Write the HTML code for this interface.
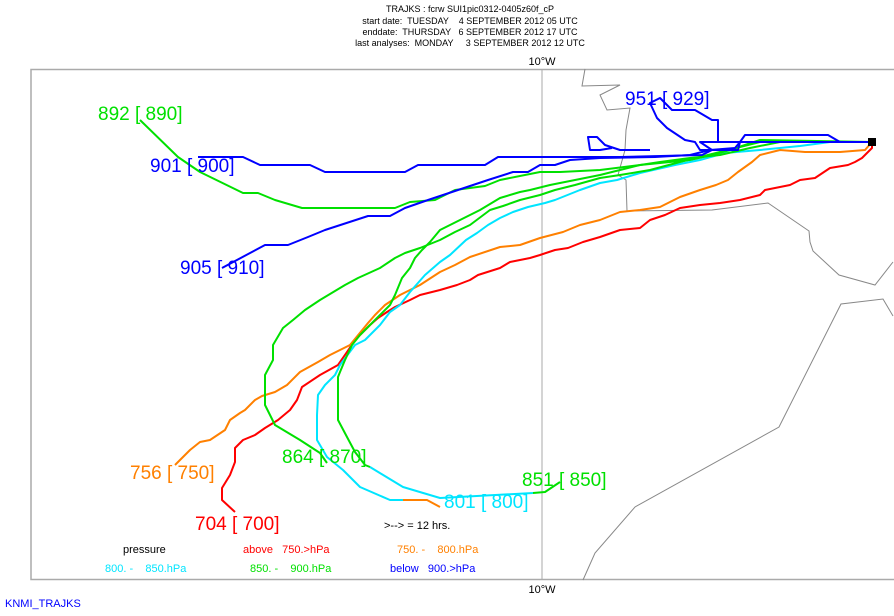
<!DOCTYPE html>
<html><head><meta charset="utf-8"><style>
body{margin:0;background:#fff;}
svg text{font-family:"Liberation Sans",sans-serif;white-space:pre;}
</style></head><body>
<svg width="894" height="611" viewBox="0 0 894 611" xmlns="http://www.w3.org/2000/svg" xml:space="preserve">
<rect width="894" height="611" fill="#fff"/>
<g font-size="9" text-anchor="middle" fill="#000">
<text x="470" y="12">TRAJKS : fcrw SUI1pic0312-0405z60f_cP</text>
<text x="470" y="24">start date:  TUESDAY    4 SEPTEMBER 2012 05 UTC</text>
<text x="470" y="35">enddate:  THURSDAY   6 SEPTEMBER 2012 17 UTC</text>
<text x="470" y="46">last analyses:  MONDAY     3 SEPTEMBER 2012 12 UTC</text>
<text x="542" y="65" font-size="11">10°W</text>
<text x="542" y="593" font-size="11">10°W</text>
</g>
<rect x="31" y="69.5" width="870" height="510" fill="none" stroke="#aaa" stroke-width="1.5"/>
<line x1="542" y1="69" x2="542" y2="580" stroke="#aaa"/>
<g fill="none" stroke="#888" stroke-width="1">
<polyline points="585,69 582,86 620,85 600,95 607,110 630,108 626,130 625,150 618,175 626,180 627,211 712,210 768,203 809,231 810,242 813,251 839,275 875,285 893,262"/>
<polyline points="893,316 883,299 841,304 779,427 635,507 595,553 583,580"/>
</g>
<g fill="none" stroke-width="2" stroke-linejoin="round">
<polyline stroke="#f00" points="872,142 872,148 862,158 855,162 848,165 830,168 815,178 800,180 790,185 765,190 760,195 740,200 720,203 700,205 680,208 665,215 650,220 640,228 620,230 600,237 583,242 568,248 555,250 540,255 530,258 510,262 500,268 478,275 470,280 457,285 440,290 420,295 410,300 395,307 387,312 378,318 370,325 355,340 347,352 338,365 320,375 302,387 297,400 290,410 278,420 265,428 255,435 243,440 235,448 235,462 230,475 222,488 222,500 235,512"/>
<polyline stroke="#ff8000" points="872,142 865,150 840,152 805,152 780,150 760,155 752,162 738,172 728,180 716,185 700,190 680,197 660,207 640,210 620,212 600,220 580,225 563,232 540,238 520,245 500,247 470,257 455,265 440,272 420,285 400,295 385,305 375,315 368,323 350,345 330,355 318,362 300,372 287,385 275,392 262,396 255,400 245,410 240,413 230,420 225,430 210,440 200,442 190,450 180,460 175,465"/>
<polyline stroke="#00e5ff" points="872,142 830,142 800,146 760,150 725,153 700,160 675,165 640,173 617,180 600,183 580,190 565,196 555,200 545,203 528,207 513,212 500,218 488,225 477,233 466,240 450,255 440,262 425,275 410,292 400,305 390,312 380,325 365,340 355,345 340,365 335,375 325,385 318,395 317,415 317,440 327,457 343,470 360,487 390,500 403,500"/>
<polyline stroke="#ff8000" points="403,500 427,500 440,507"/>
<polyline stroke="#00e5ff" points="370,467 403,487 440,498 533,493"/>
<polyline stroke="#00e000" points="533,493 545,492 560,482"/>
<polyline stroke="#00e000" points="872,142 760,140 730,150 712,155 690,160 640,165 620,170 600,175 575,180 550,185 530,190 520,192 500,198 480,210 460,220 440,230 430,242 422,250 415,258 410,268 402,278 395,295 390,305 380,315 370,325 360,335 352,345 345,360 340,372 338,377 338,420 347,437 355,452 365,465 370,467"/>
<polyline stroke="#00e000" points="872,142 760,142 720,152 680,162 650,170 620,175 600,178 575,185 555,190 540,195 520,200 503,206 490,210 470,225 455,232 440,240 420,248 405,253 395,258 380,268 358,278 345,285 320,300 305,310 293,320 283,328 273,345 273,360 265,375 265,405 275,425 300,440 320,453 327,463"/>
<polyline stroke="#00e000" points="872,142 780,142 750,148 720,155 690,158 660,162 640,165 600,170 560,172 540,172 500,180 485,186 455,190 435,200 410,202 395,208 302,208 275,200 258,193 243,193 200,172 178,157 140,120"/>
<polyline stroke="#0000ff" points="872,142 740,142 735,148 710,150 690,155 655,157 600,158 570,160 555,165 540,165 528,172 513,172 488,180 428,200 405,208 390,216 368,216 325,230 308,237 288,245 265,245 222,268"/>
<polyline stroke="#0000ff" points="872,142 840,142 828,135 745,135 740,142 738,150 712,150 702,155 620,157 600,157 560,157 498,157 485,165 418,165 405,172 325,172 310,165 260,165 243,157 198,157"/>
<polyline stroke="#0000ff" points="740,142 700,142 712,150 700,150 695,142 685,140 667,128 657,118 650,103 660,98 672,110 695,110 712,120 718,120 718,142 700,142"/>
<polyline stroke="#0000ff" points="612,148 600,150 590,150 588,137 597,137 605,145 620,150 650,150"/>
</g>
<rect x="868" y="138" width="8" height="8" fill="#000"/>
<g font-size="19">
<text x="98" y="120" fill="#00e000">892 [ 890]</text>
<text x="150" y="172" fill="#0000ff">901 [ 900]</text>
<text x="180" y="274" fill="#0000ff">905 [ 910]</text>
<text x="625" y="105" fill="#0000ff">951 [ 929]</text>
<text x="130" y="479" fill="#ff8000">756 [ 750]</text>
<text x="195" y="530" fill="#f00">704 [ 700]</text>
<text x="282" y="463" fill="#00e000">864 [ 870]</text>
<text x="444" y="508" fill="#00e5ff">801 [ 800]</text>
<text x="522" y="486" fill="#00e000">851 [ 850]</text>
</g>
<g font-size="11">
<text x="384" y="529" fill="#000">&gt;--&gt; = 12 hrs.</text>
<text x="123" y="553" fill="#000">pressure</text>
<text x="243" y="553" fill="#f00">above   750.&gt;hPa</text>
<text x="397" y="553" fill="#ff8000">750. -    800.hPa</text>
<text x="105" y="572" fill="#00e5ff">800. -    850.hPa</text>
<text x="250" y="572" fill="#00e000">850. -    900.hPa</text>
<text x="390" y="572" fill="#0000ff">below   900.&gt;hPa</text>
<text x="5" y="607" fill="#0000ff">KNMI_TRAJKS</text>
</g>
</svg>
</body></html>
